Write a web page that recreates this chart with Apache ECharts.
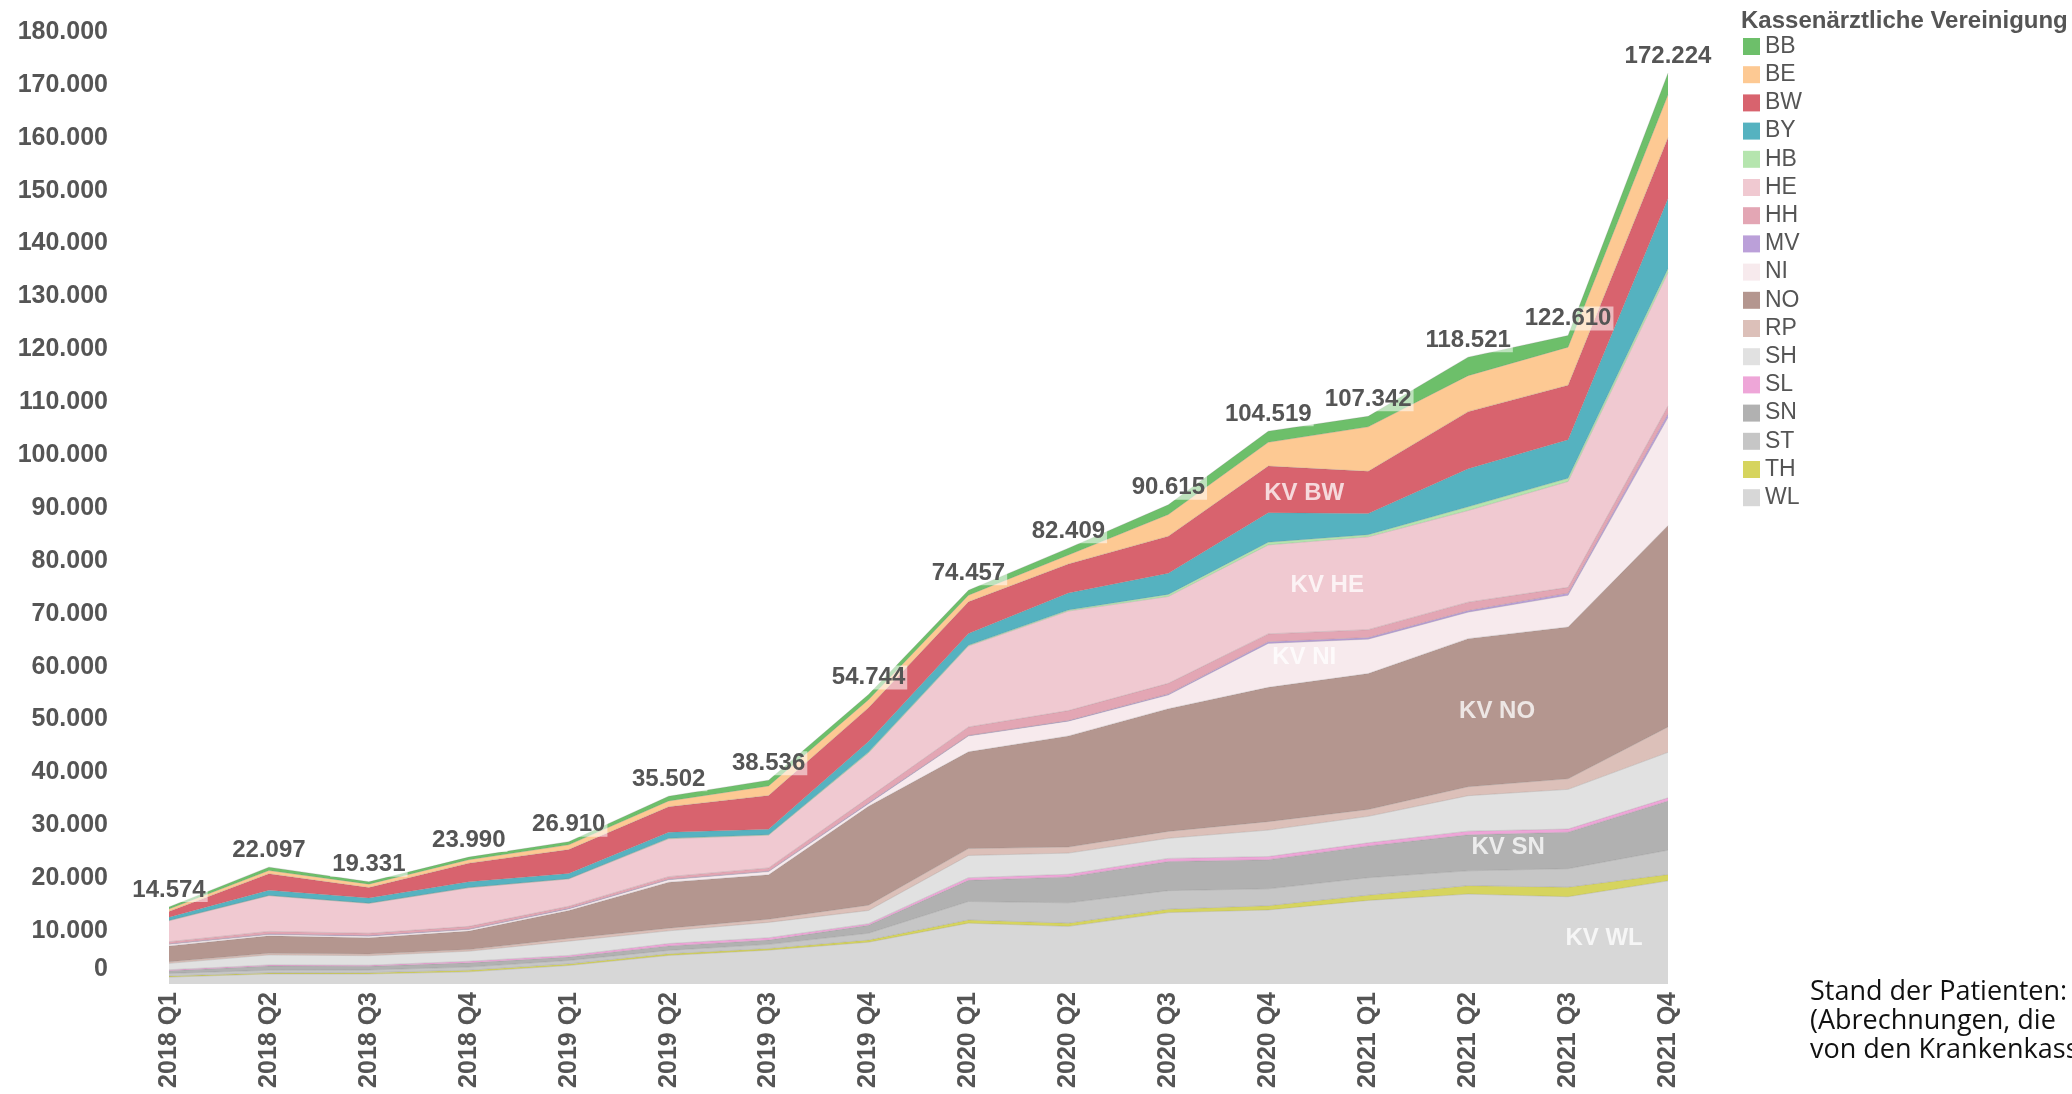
<!DOCTYPE html>
<html>
<head>
<meta charset="utf-8">
<title>Patienten je KV</title>
<script src="https://cdn.jsdelivr.net/npm/echarts@6/dist/echarts.min.js"></script>
<style>
    html, body { margin: 0; padding: 0; background: #fff; }
    #chart { width: 2072px; height: 1094px; }
</style>
</head>
<body>
<div id="chart"></div>
<script>
'use strict';

var quarters = ['2018 Q1', '2018 Q2', '2018 Q3', '2018 Q4', '2019 Q1', '2019 Q2', '2019 Q3', '2019 Q4',
    '2020 Q1', '2020 Q2', '2020 Q3', '2020 Q4', '2021 Q1', '2021 Q2', '2021 Q3', '2021 Q4'];

// totals printed above the stack
var totals = [14574, 22097, 19331, 23990, 26910, 35502, 38536, 54744,
    74457, 82409, 90615, 104519, 107342, 118521, 122610, 172224];

// one array per Kassenaerztliche Vereinigung, bottom of the stack first
var kvWL = [1300, 1900, 1900, 2300, 3500, 5400, 6400, 7900, 11500, 10900, 13500, 14000, 15800, 17000, 16500, 19500];
var kvTH = [200, 200, 250, 300, 300, 300, 300, 400, 600, 600, 650, 800, 1000, 1600, 1800, 1200];
var kvST = [500, 500, 500, 600, 650, 650, 800, 1300, 3500, 3850, 3500, 3200, 3300, 2800, 3500, 4600];
var kvSN = [500, 800, 700, 800, 650, 850, 800, 1500, 4000, 4900, 5500, 5500, 6000, 6800, 6900, 9300];
var kvSL = [200, 200, 200, 300, 300, 450, 450, 300, 500, 500, 600, 600, 600, 700, 600, 600];
var kvSH = [1200, 1900, 1800, 1900, 2700, 2400, 2900, 2500, 4200, 4000, 3800, 5000, 5000, 6700, 7500, 8600];
var kvRP = [300, 300, 300, 300, 500, 500, 600, 1000, 1300, 1150, 1300, 1600, 1300, 1700, 2000, 4800];
var kvNO = [3000, 3300, 3100, 3500, 5300, 8700, 8400, 18700, 18300, 21000, 23200, 25400, 25700, 28000, 28700, 38100];
var kvNI = [300, 250, 300, 300, 300, 450, 600, 500, 3000, 2800, 2600, 8300, 6500, 5000, 6000, 20400];
var kvMV = [100, 100, 100, 100, 100, 100, 100, 150, 100, 100, 200, 300, 300, 300, 400, 700];
var kvHH = [400, 500, 450, 500, 400, 500, 600, 1000, 1600, 1900, 2000, 1500, 1500, 1600, 1100, 1500];
var kvHE = [3954, 6747, 5631, 7290, 5160, 7152, 6186, 8444, 15307, 18809, 16415, 16819, 17542, 17321, 20010, 25224];
var kvHB = [70, 50, 50, 50, 50, 100, 100, 150, 150, 200, 400, 500, 400, 700, 600, 700];
var kvBY = [600, 1000, 1000, 1100, 1000, 1150, 1000, 2000, 2200, 3200, 4000, 5600, 4000, 7200, 7300, 13300];
var kvBW = [1100, 3100, 1950, 3500, 4500, 4800, 6400, 6400, 6000, 5500, 7000, 8800, 8000, 10800, 10300, 11500];
var kvBE = [450, 600, 650, 650, 900, 1100, 1800, 1500, 1250, 1700, 4100, 4500, 8400, 6800, 7200, 8100];
var kvBB = [400, 650, 450, 500, 600, 900, 1100, 1000, 950, 1300, 1850, 2100, 2000, 3500, 2200, 4100];

var yTicks = [0, 180000, 10000];   // min, max, step

// names written inside the areas: [text, quarter index, value]
var areaNames = [
    ['KV BW', 11.36, 92800],
    ['KV HE', 11.59, 75400],
    ['KV NI', 11.36, 61800],
    ['KV NO', 13.29, 51600],
    ['KV SN', 13.40, 25900],
    ['KV WL', 14.36, 8700]
];

var stackOrder = [
    ['WL', kvWL, '#d7d7d7'],
    ['TH', kvTH, '#d6d45e'],
    ['ST', kvST, '#c6c6c6'],
    ['SN', kvSN, '#b1b1b1'],
    ['SL', kvSL, '#eea6d8'],
    ['SH', kvSH, '#e1e1e1'],
    ['RP', kvRP, '#dcc0b9'],
    ['NO', kvNO, '#b4968f'],
    ['NI', kvNI, '#f7eaed'],
    ['MV', kvMV, '#bba0d9'],
    ['HH', kvHH, '#e3a6b4'],
    ['HE', kvHE, '#f0c9d1'],
    ['HB', kvHB, '#b5e5ae'],
    ['BY', kvBY, '#55b2c0'],
    ['BW', kvBW, '#d8636e'],
    ['BE', kvBE, '#fdc993'],
    ['BB', kvBB, '#6dbf6a']
];

function formatDe(n) {
    return String(n).replace(/\B(?=(\d{3})+(?!\d))/g, '.');
}

var chart = echarts.init(document.getElementById('chart'), null, {renderer: 'canvas'});

var series = [];
for (var i = 0; i < stackOrder.length; i++) {
    var entry = stackOrder[i];
    var isTop = i === stackOrder.length - 1;
    series.push({
        name: entry[0],
        type: 'line',
        stack: 'kv',
        data: entry[1],
        color: entry[2],
        symbol: 'circle',
        symbolSize: 0,
        showSymbol: isTop,
        silent: true,
        lineStyle: {width: 0.6, color: 'rgba(110,110,110,0.35)'},
        areaStyle: {color: entry[2], opacity: 1},
        label: {
            show: isTop,
            position: 'top',
            distance: 5,
            formatter: function (p) {
                return formatDe(totals[p.dataIndex]);
            },
            fontFamily: 'Liberation Sans',
            fontSize: 24,
            fontWeight: 'bold',
            color: '#555555',
            backgroundColor: 'rgba(255,255,255,0.55)',
            padding: [0, 2]
        },
        z: 2
    });
}

series.push({
    name: 'areaNames',
    type: 'scatter',
    xAxisIndex: 1,
    symbolSize: 0,
    silent: true,
    data: areaNames.map(function (a) {
        return {value: [a[1], a[2]], name: a[0]};
    }),
    label: {
        show: true,
        position: 'inside',
        formatter: '{b}',
        fontFamily: 'Liberation Sans',
        fontSize: 24,
        fontWeight: 'bold',
        color: 'rgba(255,255,255,0.95)'
    },
    z: 5
});

var legendNames = stackOrder.map(function (s) { return s[0]; }).reverse();

var option = {
    animation: false,
    backgroundColor: '#ffffff',
    title: {
        text: 'Kassenärztliche Vereinigung',
        left: 1736,
        top: 4,
        textStyle: {fontFamily: 'Liberation Sans', fontSize: 24, fontWeight: 'bold', color: '#555555'}
    },
    legend: {
        data: legendNames,
        orient: 'vertical',
        left: 1738,
        top: 30,
        icon: 'rect',
        itemWidth: 17,
        itemHeight: 17,
        itemGap: 5.2,
        selectedMode: false,
        textStyle: {fontFamily: 'Liberation Sans', fontSize: 23, lineHeight: 22, color: '#555555'}
    },
    grid: {
        left: 169,
        right: 404,
        top: 32,
        bottom: 110,
        containLabel: false
    },
    xAxis: [
        {
            type: 'category',
            boundaryGap: false,
            data: quarters,
            axisLine: {show: false},
            axisTick: {show: false},
            axisLabel: {
                rotate: 90,
                margin: 8,
                fontFamily: 'Liberation Sans',
                fontSize: 25,
                fontWeight: 'bold',
                color: '#555555'
            }
        },
        {
            type: 'value',
            min: 0,
            max: quarters.length - 1,
            show: false
        }
    ],
    yAxis: {
        type: 'value',
        min: yTicks[0],
        max: yTicks[1],
        interval: yTicks[2],
        splitLine: {show: false},
        axisLine: {show: false},
        axisTick: {show: false},
        axisLabel: {
            margin: 61,
            fontFamily: 'Liberation Sans',
            fontSize: 25,
            fontWeight: 'bold',
            color: '#555555',
            formatter: function (v) {
                return v === 0 ? '{z|0}' : formatDe(v);
            },
            rich: {
                z: {
                    fontFamily: 'Liberation Sans',
                    fontSize: 25,
                    fontWeight: 'bold',
                    color: '#555555',
                    padding: [0, 0, 30, 0]
                }
            }
        }
    },
    graphic: [
        {
            type: 'text',
            left: 1810,
            top: 978,
            style: {
                text: 'Stand der Patienten:\n(Abrechnungen, die\nvon den Krankenkassen',
                fontFamily: 'Open Sans',
                fontSize: 27,
                lineHeight: 29,
                fill: '#111111'
            }
        }
    ],
    series: series
};

chart.setOption(option);
</script>
</body>
</html>
